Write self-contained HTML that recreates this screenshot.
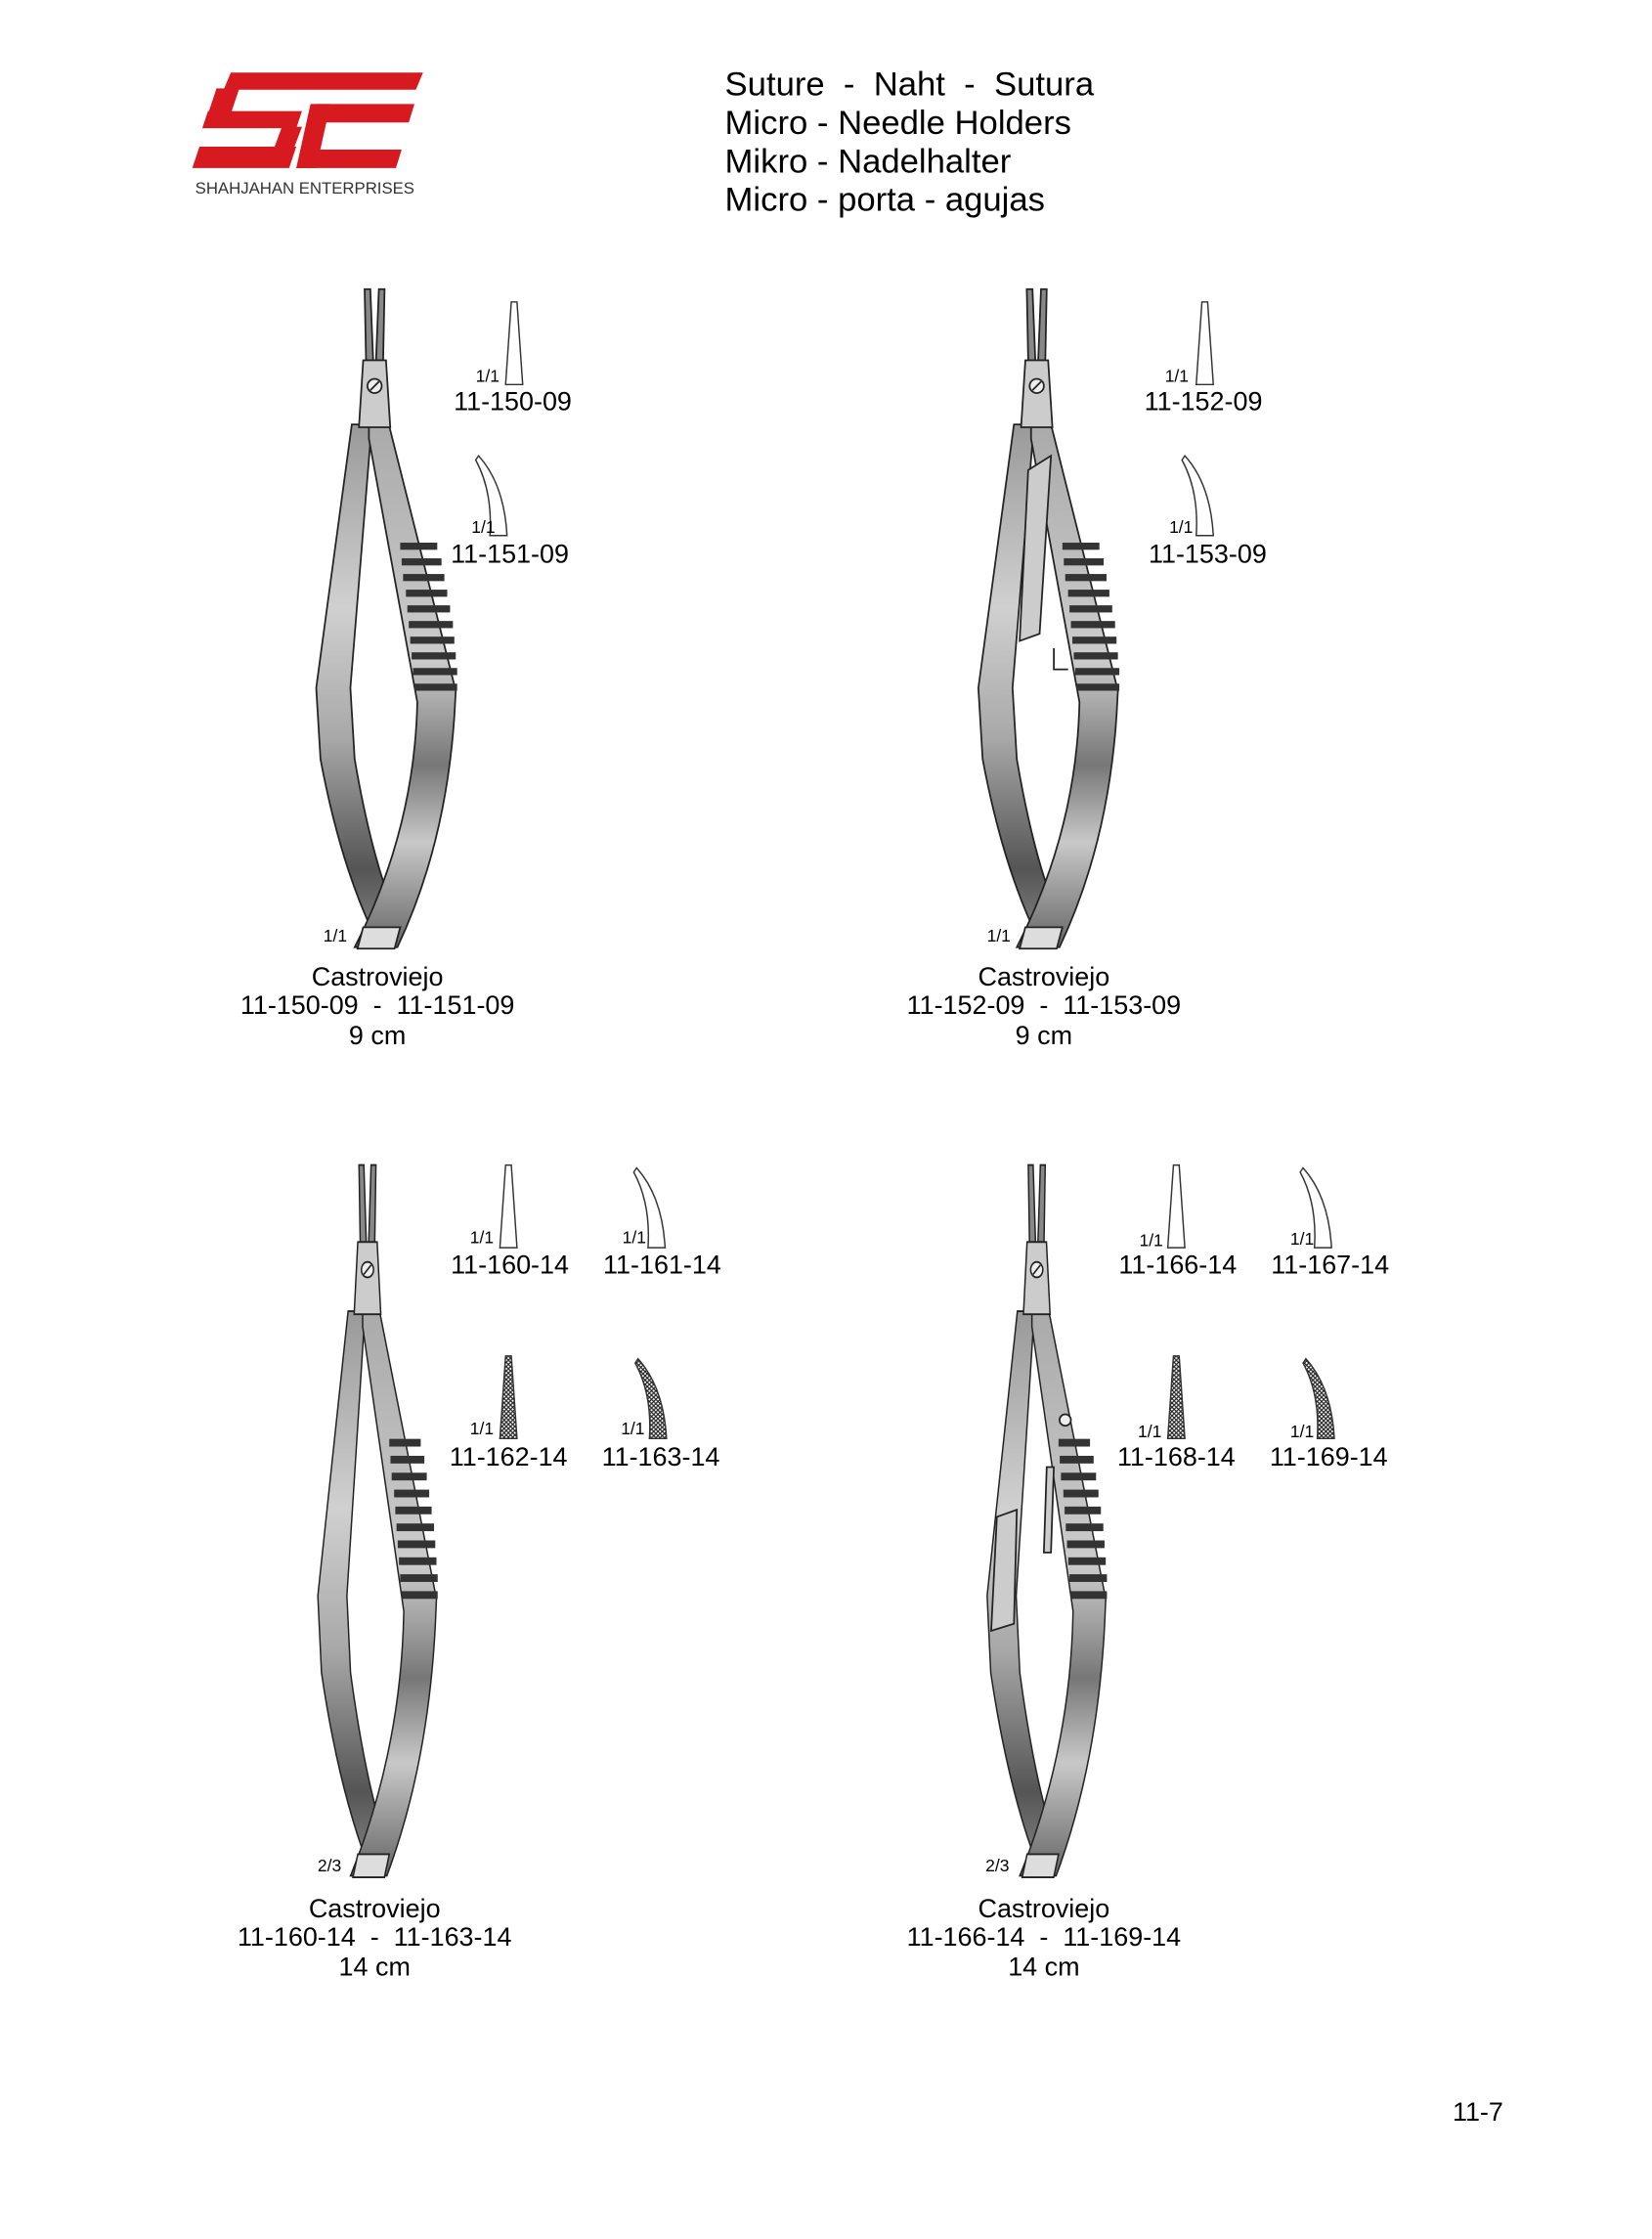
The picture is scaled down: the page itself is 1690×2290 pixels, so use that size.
<!DOCTYPE html>
<html><head><meta charset="utf-8"><style>
html,body{margin:0;padding:0;background:#fff;}
svg{display:block;}
text{font-family:"Liberation Sans",Arial,sans-serif;fill:#000;}
</style></head><body>
<svg width="1690" height="2290" viewBox="0 0 1160 1572" xmlns="http://www.w3.org/2000/svg">
<defs>
<linearGradient id="g" x1="0" y1="0" x2="0" y2="1">
<stop offset="0" stop-color="#999"/><stop offset="0.35" stop-color="#d0d0d0"/><stop offset="0.6" stop-color="#a8a8a8"/><stop offset="0.85" stop-color="#555"/><stop offset="1" stop-color="#888"/>
</linearGradient>
<linearGradient id="g2" x1="0" y1="0" x2="0" y2="1">
<stop offset="0" stop-color="#aaa"/><stop offset="0.45" stop-color="#ccc"/><stop offset="0.65" stop-color="#777"/><stop offset="0.8" stop-color="#c8c8c8"/><stop offset="1" stop-color="#666"/>
</linearGradient>
<pattern id="h" width="3" height="3" patternUnits="userSpaceOnUse">
<rect width="3" height="3" fill="#fff"/><path d="M0,0L3,3M3,0L0,3" stroke="#222" stroke-width="0.8"/>
</pattern>
<g id="inst" stroke="#222" stroke-width="1.2">
<path d="M-16,95 L-2,95 L-17,280 L-14,330 Q-2,400 15,440 L4,462 Q-23,410 -38,330 L-41,280 Z" fill="url(#g)"/>
<path d="M-4,95 L10,95 L57,282 L56,300 Q50,390 16,462 L-14,462 Q28,380 30,290 L-4,105 Z" fill="url(#g2)"/>
<path d="M-7,0 L-3,0 L-1,50 L-6,50 Z" fill="#888"/>
<path d="M3,0 L7,0 L6,50 L1,50 Z" fill="#888"/>
<path d="M-8,50 L8,50 L11,97 L-11,97 Z" fill="#ccc"/>
<circle cx="0" cy="68" r="5" fill="#eee"/><path d="M-3,71 L3,65"/>
<g fill="#333" stroke="none">
<rect x="18" y="178" width="26" height="5"/><rect x="19" y="189" width="28" height="5"/>
<rect x="20" y="200" width="29" height="5"/><rect x="22" y="211" width="29" height="5"/>
<rect x="23" y="222" width="30" height="5"/><rect x="24" y="233" width="31" height="5"/>
<rect x="25" y="244" width="31" height="5"/><rect x="26" y="255" width="31" height="5"/>
<rect x="27" y="266" width="31" height="5"/><rect x="28" y="277" width="30" height="5"/>
</g>
<path d="M-8,448 L18,448 L14,463 L-12,463 Z" fill="#ddd"/>
</g>
<path id="st" d="M-2,0 L2,0 L6,58 L-6,58 Z" stroke="#333" stroke-width="1"/>
<path id="cv" d="M-14,0 Q4,20 6,56 L-6,56 Q-4,25 -16,3 Z" stroke="#333" stroke-width="1"/>
</defs>

<g fill="#d71920">
<path d="M162,51 L297,51 L292,63 L157,63 Z"/>
<path d="M152,62 L168,62 L162,80 L146,80 Z"/>
<path d="M146,78 L212,78 L208,90 L142,90 Z"/>
<path d="M198,89 L212,89 L206,105 L192,105 Z"/>
<path d="M140,103 L208,103 L203,118 L135,118 Z"/>
<path d="M222,73 L291,73 L287,86 L218,86 Z"/>
<path d="M218,73 L232,73 L222,118 L208,118 Z"/>
<path d="M212,105 L282,105 L278,118 L208,118 Z"/>
</g>
<text x="137" y="136" font-size="11.5" style="fill:#333">SHAHJAHAN ENTERPRISES</text>

<g font-size="23.8">
<text x="509" y="67" xml:space="preserve">Suture  -  Naht  -  Sutura</text>
<text x="509" y="94">Micro - Needle Holders</text>
<text x="509" y="121">Mikro - Nadelhalter</text>
<text x="509" y="148">Micro - porta - agujas</text>
</g>

<use href="#inst" transform="translate(263,203)"/>
<use href="#inst" transform="translate(728,203)"/>
<use href="#inst" transform="translate(258,818) scale(0.85,1.08)"/>
<use href="#inst" transform="translate(728,818) scale(0.85,1.08)"/>
<g stroke="#222" stroke-width="1.2" fill="#ccc">
<path d="M722,330 L738,320 L730,445 L716,450 Z"/>
<path d="M740,455 L740,470 L750,470" fill="none"/>
<path d="M700,1065 L714,1060 L712,1140 L696,1145 Z"/>
<path d="M735,1030 L740,1030 L738,1090 L733,1090 Z"/>
<circle cx="748" cy="997" r="4" fill="#eee"/>
</g>

<g fill="#fff">
<use href="#st" transform="translate(361,212)"/>
<use href="#cv" transform="translate(350,320)"/>
<use href="#st" transform="translate(846,212)"/>
<use href="#cv" transform="translate(846,320)"/>
<use href="#st" transform="translate(357,818)"/>
<use href="#cv" transform="translate(461,820)"/>
<use href="#st" transform="translate(826,818)"/>
<use href="#cv" transform="translate(929,820)"/>
</g>
<g fill="url(#h)">
<use href="#st" transform="translate(357,952)"/>
<use href="#cv" transform="translate(462,954)"/>
<use href="#st" transform="translate(826,952)"/>
<use href="#cv" transform="translate(931,954)"/>
</g>

<g font-size="12">
<text x="334" y="268">1/1</text>
<text x="331" y="374">1/1</text>
<text x="818" y="268">1/1</text>
<text x="821" y="374">1/1</text>
<text x="330" y="873">1/1</text>
<text x="437" y="873">1/1</text>
<text x="330" y="1007">1/1</text>
<text x="436" y="1007">1/1</text>
<text x="800" y="875">1/1</text>
<text x="906" y="874">1/1</text>
<text x="799" y="1009">1/1</text>
<text x="906" y="1009">1/1</text>
<text x="227" y="661">1/1</text>
<text x="693" y="661">1/1</text>
<text x="223" y="1314">2/3</text>
<text x="692" y="1314">2/3</text>
</g>

<g font-size="18.5" text-anchor="middle">
<text x="360" y="288">11-150-09</text>
<text x="358" y="395">11-151-09</text>
<text x="845" y="288">11-152-09</text>
<text x="848" y="395">11-153-09</text>
<text x="358" y="894">11-160-14</text>
<text x="465" y="894">11-161-14</text>
<text x="357" y="1029">11-162-14</text>
<text x="464" y="1029">11-163-14</text>
<text x="827" y="894">11-166-14</text>
<text x="934" y="894">11-167-14</text>
<text x="826" y="1029">11-168-14</text>
<text x="933" y="1029">11-169-14</text>

<text x="265" y="692">Castroviejo</text>
<text x="265" y="712" xml:space="preserve">11-150-09  -  11-151-09</text>
<text x="265" y="733">9 cm</text>
<text x="733" y="692">Castroviejo</text>
<text x="733" y="712" xml:space="preserve">11-152-09  -  11-153-09</text>
<text x="733" y="733">9 cm</text>
<text x="263" y="1346">Castroviejo</text>
<text x="263" y="1366" xml:space="preserve">11-160-14  -  11-163-14</text>
<text x="263" y="1387">14 cm</text>
<text x="733" y="1346">Castroviejo</text>
<text x="733" y="1366" xml:space="preserve">11-166-14  -  11-169-14</text>
<text x="733" y="1387">14 cm</text>
</g>
<text x="1020" y="1489" font-size="18.5">11-7</text>
</svg>
</body></html>
